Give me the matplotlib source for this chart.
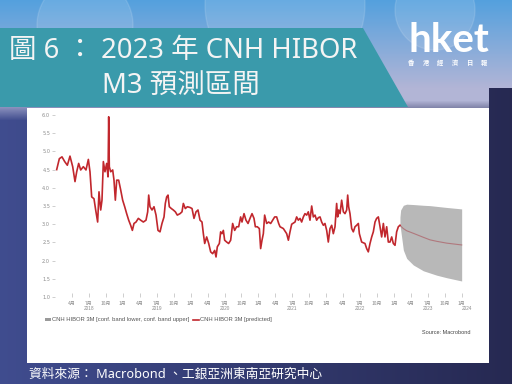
import numpy as np
import matplotlib.pyplot as plt
from matplotlib.patches import Polygon, Rectangle, Patch, Circle
from matplotlib.lines import Line2D

# CNH HIBOR 3M, years since 2018-01-01
hist_t = [0.025, 0.064, 0.103, 0.143, 0.182, 0.221, 0.261, 0.295, 0.320, 0.349,
          0.379, 0.418, 0.457, 0.492, 0.516, 0.541, 0.575, 0.600, 0.629, 0.649,
          0.674, 0.693, 0.713, 0.737, 0.762, 0.782, 0.792, 0.801, 0.821, 0.851,
          0.870, 0.890, 0.910, 0.939, 0.969, 0.998, 1.028, 1.057, 1.087, 1.116,
          1.141, 1.165, 1.195, 1.229, 1.264, 1.303, 1.342, 1.367, 1.382, 1.401,
          1.431, 1.460, 1.490, 1.519, 1.549, 1.578, 1.608, 1.627, 1.647, 1.667,
          1.686, 1.716, 1.745, 1.775, 1.804, 1.844, 1.873, 1.893, 1.922, 1.952,
          1.991, 2.021, 2.050, 2.080, 2.109, 2.139, 2.168, 2.188, 2.208, 2.237,
          2.267, 2.296, 2.325, 2.355, 2.375, 2.394, 2.424, 2.443, 2.463, 2.483,
          2.502, 2.532, 2.561, 2.591, 2.620, 2.650, 2.679, 2.709, 2.738, 2.758,
          2.788, 2.817, 2.847, 2.876, 2.906, 2.935, 2.955, 2.984, 3.014, 3.033,
          3.053, 3.073, 3.092, 3.122, 3.151, 3.181, 3.210, 3.240, 3.269, 3.299,
          3.319,
          3.368, 3.417, 3.442, 3.466, 3.491, 3.540, 3.564, 3.589, 3.614, 3.638,
          3.663, 3.687, 3.712, 3.736, 3.761, 3.786, 3.810, 3.835, 3.859, 3.884,
          3.909, 3.933, 3.958, 3.982, 4.007, 4.031, 4.056, 4.081, 4.105, 4.130,
          4.154, 4.169, 4.184, 4.204, 4.228, 4.253, 4.277, 4.302, 4.317, 4.331,
          4.351, 4.376, 4.400, 4.425, 4.449, 4.474, 4.489, 4.523, 4.572, 4.597,
          4.621, 4.646, 4.671, 4.695, 4.720, 4.744, 4.769, 4.794, 4.818, 4.843,
          4.867, 4.892, 4.916, 4.941, 4.966, 4.990, 5.015, 5.039, 5.064, 5.088]
hist_v = [4.50, 4.80, 4.85, 4.72, 4.62, 4.87, 4.58, 4.17, 4.44, 4.67,
          4.49, 4.58, 4.49, 4.78, 4.44, 3.75, 3.70, 3.39, 3.06, 3.89,
          3.39, 3.66, 4.72, 4.44, 4.67, 4.30, 5.95, 4.58, 4.44, 4.49,
          4.21, 3.66, 4.21, 4.21, 3.94, 3.66, 3.48, 3.29, 3.11, 2.97,
          2.83, 3.02, 3.06, 3.16, 3.11, 3.06, 3.11, 3.34, 3.80, 3.48,
          3.39, 3.48, 3.25, 2.83, 2.79, 3.02, 3.20, 3.57, 3.75, 3.80,
          3.48, 3.43, 3.39, 3.34, 3.25, 3.29, 3.34, 3.57, 3.43, 3.48,
          3.46, 3.43, 3.16, 3.34, 3.39, 3.11, 3.06, 2.74, 2.47, 2.65,
          2.47, 2.24, 2.19, 2.28, 2.10, 2.38, 2.47, 2.79, 2.74, 2.83,
          2.56, 2.51, 2.47, 2.56, 3.02, 2.83, 2.93, 2.93, 3.20, 3.06,
          3.29, 3.11, 3.02, 3.16, 3.29, 3.16, 2.93, 2.93, 2.88, 2.33,
          2.56, 2.74, 3.25, 3.02, 3.06, 3.02, 3.11, 3.20, 3.20, 3.02,
          2.93,
          2.88, 2.74, 2.56, 2.79, 3.00, 3.06, 3.20, 3.11, 3.16, 3.06,
          3.20, 3.29, 3.25, 3.34, 3.11, 3.50, 3.20, 3.25, 3.11, 3.18,
          3.20, 3.06, 2.97, 3.02, 2.83, 2.51, 2.88, 2.97, 2.74, 2.93,
          3.57, 3.20, 3.39, 3.29, 3.66, 3.34, 3.29, 3.39, 3.80, 3.48,
          3.29, 2.88, 2.79, 2.93, 2.97, 3.02, 2.74, 2.51, 2.47, 2.33,
          2.24, 2.47, 2.65, 2.79, 3.06, 3.16, 3.20, 2.93, 2.65, 3.02,
          2.65, 2.93, 2.51, 2.51, 2.65, 2.47, 2.42, 2.79, 2.93, 2.97]

# forecast and confidence band
fc_t = [5.088, 5.098, 5.138, 5.187, 5.285, 5.433, 5.531, 5.629, 5.777, 5.998]
fc_mean = [2.97, 2.95, 2.88, 2.82, 2.75, 2.64, 2.57, 2.53, 2.48, 2.43]
fc_upper = [3.20, 3.39, 3.52, 3.55, 3.54, 3.52, 3.51, 3.49, 3.46, 3.42]
fc_lower = [2.97, 2.85, 2.29, 2.06, 1.88, 1.72, 1.66, 1.60, 1.53, 1.44]

y_ticks = [1.0, 1.5, 2.0, 2.5, 3.0, 3.5, 4.0, 4.5, 5.0, 5.5, 6.0]
tick_years = [2018] * 3 + [y for y in range(2019, 2024) for _ in range(4)] + [2024]
tick_months = [4, 7, 10] + [1, 4, 7, 10] * 5 + [1]
year_labels = ['2018', '2019', '2020', '2021', '2022', '2023']

title1 = '圖 6 ： 2023 年 CNH HIBOR'
title2 = 'M3 預測區間'
footer = '資料來源： Macrobond 、工銀亞洲東南亞研究中心'
legend_labels = ['CNH HIBOR 3M [conf. band lower, conf. band upper]',
                 'CNH HIBOR 3M [predicted]']

CJK = ['Noto Sans CJK TC', 'DejaVu Sans']
MIX = ['Noto Sans', 'Noto Sans CJK TC', 'DejaVu Sans']
RED = '#c1272d'
GREY = '#8c8c8c'

W, H = 512, 384
fig = plt.figure(figsize=(W / 100, H / 100), dpi=100)

# slide background
bg = fig.add_axes([0, 0, 1, 1])
bg.set_xlim(0, W)
bg.set_ylim(H, 0)
bg.axis('off')

yy, xx = np.mgrid[0:H, 0:W].astype(float)
fx = (xx / W)[..., None]
top = np.array([0.33, 0.63, 0.87])
mid = np.array([0.70, 0.71, 0.84])
low = np.array([0.25, 0.30, 0.56]) * (1 - fx) + np.array([0.15, 0.16, 0.32]) * fx
t1 = np.clip(yy / 88, 0, 1)[..., None]
img = top * (1 - t1) + mid * t1
t2 = np.clip((yy - 100) / 20, 0, 1)[..., None]
img = img * (1 - t2) + low * t2
right = (xx >= 489) & (yy >= 88)
img[right] = low[right]
bg.imshow(img, extent=(0, W, H, 0), aspect='auto', zorder=0)

for cx, cy, r in [(85, 25, 48), (285, 5, 80), (435, 10, 40)]:
    bg.add_patch(Circle((cx, cy), r, fc='white', ec='white', alpha=0.12, lw=1, zorder=1))

bg.add_patch(Polygon([(0, 28), (363, 28), (408, 107), (0, 107)], closed=True,
                     fc='#3a9aab', ec='none', zorder=2))
bg.add_patch(Rectangle((27, 108), 462, 255, fc='white', ec='none', zorder=2))

bg.text(183, 51, title1, family=MIX, fontsize=19.8, color='#f4f4f4',
        ha='center', va='center', zorder=3)
bg.text(181, 86, title2, family=MIX, fontsize=19.8, color='#f4f4f4',
        ha='center', va='center', zorder=3)

bg.text(449, 52, 'hket', family='Lato', fontsize=29, fontweight='bold',
        color='white', ha='center', va='baseline', zorder=3)
for i, ch in enumerate('香港經濟日報'):
    bg.text(411 + i * 14.5, 62, ch, family=CJK, fontsize=4.5, fontweight='bold',
            color='white', ha='center', va='center', zorder=3)

bg.text(29, 374, footer, family=MIX, fontsize=9.2, color='white',
        ha='left', va='center', zorder=3)
bg.text(470, 333, 'Source: Macrobond', family='Liberation Sans', fontsize=4.0,
        color='#444444', ha='right', va='center', zorder=3)

# chart
ax = fig.add_axes([55 / W, (H - 297) / H, 411 / W, 182 / H])
ax.set_facecolor('none')
ax.fill_between(fc_t, fc_lower, fc_upper, color='#b8b8b8', lw=0, zorder=1)
ax.plot(fc_t, fc_mean, color='#b0787d', lw=0.8, zorder=2)
ax.plot(hist_t, hist_v, color=RED, lw=1.2, zorder=3)

ax.set_xlim(0, 411 / 67.8)
ax.set_ylim(1.0, 6.0)
for s in ax.spines.values():
    s.set_visible(False)

ax.set_yticks(y_ticks)
ax.set_yticklabels(['%.1f' % v for v in y_ticks])
ax.tick_params(axis='y', length=2, width=0.5, color='#bbbbbb', pad=1.5,
               labelsize=3.6, labelcolor=GREY)

xt = [(y - 2018) + (m - 1) / 12 for y, m in zip(tick_years, tick_months)]
ax.set_xticks(xt)
ax.set_xticklabels(['%d月' % m for m in tick_months], family=CJK)
ax.tick_params(axis='x', direction='in', length=3, width=0.5, color='#bbbbbb',
               pad=3, labelsize=3.6, labelcolor=GREY)
for tk, m in zip(ax.xaxis.get_major_ticks(), tick_months):
    if m == 1:
        tk.tick1line.set_color(RED)

for i, lab in enumerate(year_labels):
    ax.annotate(lab, xy=(i + 0.5, 0), xycoords=('data', 'axes fraction'),
                xytext=(0, -12), textcoords='offset pixels', ha='center',
                va='center', fontsize=3.4, color=GREY, family='Liberation Sans')
ax.annotate('2024', xy=(6.07, 0), xycoords=('data', 'axes fraction'),
            xytext=(0, -12), textcoords='offset pixels', ha='center',
            va='center', fontsize=3.4, color=GREY, family='Liberation Sans')

handles = [Patch(fc='#9a9a9a', ec='none'), Line2D([], [], color=RED, lw=1.2)]
fig.legend(handles, legend_labels, loc='center left',
           bbox_to_anchor=(42 / W, 1 - 320 / H), ncol=2, frameon=False,
           prop={'family': 'Liberation Sans', 'size': 4.2}, labelcolor='#555555',
           handlelength=1.0, handleheight=0.6, handletextpad=0.3,
           columnspacing=0.5, borderpad=0)

fig.savefig('out.png', dpi=100)
